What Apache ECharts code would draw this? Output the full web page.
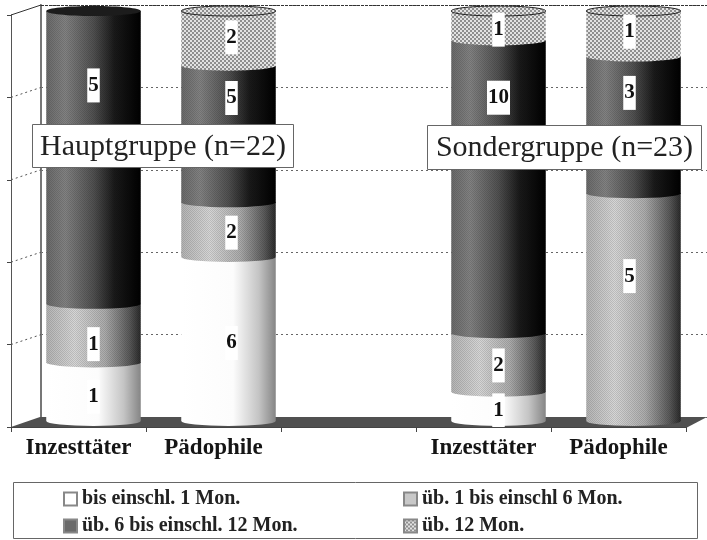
<!DOCTYPE html>
<html>
<head>
<meta charset="utf-8">
<style>html,body{margin:0;padding:0;background:#fff}#echarts{width:707px;height:540px}</style>
<script src="https://cdn.jsdelivr.net/npm/echarts@6/dist/echarts.min.js"></script>
</head>
<body>
<div id="echarts"></div>
<script>
// Anzahl der Täter je Gruppe, die Balken zeigen den Anteil an der Gruppe
const categories = ['Inzesttäter', 'Pädophile', '', 'Inzesttäter', 'Pädophile'];
const stageNames = ['bis einschl. 1 Mon.', 'üb. 1 bis einschl 6 Mon.', 'üb. 6 bis einschl. 12 Mon.', 'üb. 12 Mon.'];
const bisEin = [1, 6, 0, 1, 0];
const uebEin = [1, 2, 0, 2, 5];
const uebSechs = [5, 5, 0, 10, 3];
const uebZwoelf = [0, 2, 0, 1, 1];
const stages = [bisEin, uebEin, uebSechs, uebZwoelf];
const yTicks = [0, 20, 40, 60, 80, 100];
const groupLabels = ['Hauptgruppe (n=22)', 'Sondergruppe (n=23)'];

// Wert-Etiketten sind im Original von Hand verschoben
const labelMoveY = {'0-0': 5, '1-0': 11, '2-0': -72, '0-1': 4, '1-1': 3, '2-1': -36, '3-1': -1, '0-3': 4, '1-3': 3, '2-3': -89, '3-3': 4, '1-4': -31, '2-4': -32, '3-4': -2};
const labelMoveX = [0, 3, 0, 0, -4];

const SERIF = '"Liberation Serif", "Times New Roman", serif';
const front = {left: 11, right: 21, top: 15, bottom: 113};
const back = {left: 41, right: -9, top: 5, bottom: 123};
const mid = {left: 26, right: 6, top: 11, bottom: 119};

let makePattern = function (size, draw) {
    let c = document.createElement('canvas');
    c.width = c.height = size;
    draw(c.getContext('2d'));
    return {image: c, repeat: 'repeat'};
}

// Rasterpunkte wie im Scan
let grain = makePattern(2, function (ctx) {
    ctx.fillStyle = 'rgba(0,0,0,0.12)';
    ctx.fillRect(0, 0, 1, 1);
    ctx.fillRect(1, 1, 1, 1);
});
let checker = makePattern(4, function (ctx) {
    ctx.fillStyle = '#e2e2e2';
    ctx.fillRect(0, 0, 4, 4);
    ctx.fillStyle = '#8e8e8e';
    ctx.fillRect(0, 0, 2, 2);
    ctx.fillRect(2, 2, 2, 2);
});

let shade = function (stops) {
    return new echarts.graphic.LinearGradient(0, 0, 1, 0, stops.map((s) => ({offset: s[0], color: s[1]})));
}
const fills = [
    shade([[0, '#ffffff'], [0.55, '#fcfcfc'], [0.82, '#c4c4c4'], [1, '#858585']]),
    shade([[0, '#b4b4b4'], [0.3, '#d6d6d6'], [0.62, '#acacac'], [0.88, '#5a5a5a'], [1, '#2a2a2a']]),
    shade([[0, '#6a6a6a'], [0.2, '#828282'], [0.5, '#505050'], [0.72, '#1a1a1a'], [1, '#000000']]),
    checker
];
const legendColors = ['#ffffff', '#c8c8c8', '#6a6a6a', checker];

let totals = categories.map((c, i) => stages.reduce((sum, s) => sum + s[i], 0));

// [Kategorie, von %, bis %, Anzahl] für eine Stufe
let stageData = function (idx) {
    return categories.map((c, i) => {
        let below = 0;
        for (let k = 0; k < idx; k++) below += stages[k][i];
        if (!stages[idx][i]) return [i, 0, 0, 0];
        return [i, below / totals[i] * 100, (below + stages[idx][i]) / totals[i] * 100, stages[idx][i]];
    });
}

let renderCylinder = function (idx) {
    return function (params, api) {
        let cat = api.value(0);
        let count = api.value(3);
        if (!count) return {type: 'group', children: []};
        let w = api.size([1, 0])[0] * 0.7;
        let p0 = api.coord([cat, api.value(1)]);
        let p1 = api.coord([cat, api.value(2)]);
        let x = p0[0] - w / 2, rx = w / 2, ry = 5;
        let segment = function (fill) {
            return {
                type: 'path',
                shape: {
                    pathData: 'M' + x + ' ' + p1[1] + 'L' + (x + w) + ' ' + p1[1] + 'L' + (x + w) + ' ' + p0[1] +
                        'A' + rx + ' ' + ry + ' 0 0 1 ' + x + ' ' + p0[1] + 'Z',
                    layout: 'cover', x: x, y: p1[1], width: w, height: p0[1] - p1[1] + ry
                },
                style: {fill: fill}
            };
        }
        let kids = [segment(fills[idx])];
        if (idx === 1 || idx === 2) kids.push(segment(grain));
        // Deckel auf dem obersten Segment
        let isTop = true;
        for (let k = idx + 1; k < stages.length; k++) if (stages[k][cat]) isTop = false;
        if (isTop) {
            kids.push({type: 'ellipse', shape: {cx: p0[0], cy: p1[1], rx: rx, ry: ry},
                style: idx === 3 ? {fill: checker, stroke: '#222', lineWidth: 1} : {fill: '#1c1c1c'}});
        }
        let key = idx + '-' + cat;
        kids.push({
            type: 'text', z2: 50,
            style: {
                text: String(count), x: p0[0] + labelMoveX[cat], y: (p0[1] + p1[1]) / 2 + (labelMoveY[key] || 0),
                align: 'center', verticalAlign: 'middle',
                font: 'bold 21px ' + SERIF, fill: '#111', backgroundColor: '#fff', padding: [7, 1, 6, 1]
            }
        });
        return {type: 'group', children: kids};
    };
}

let groupBox = function (text, x, y, w, h) {
    return [
        {type: 'rect', z: 100, shape: {x: x, y: y, width: w, height: h}, style: {fill: '#fff', stroke: '#666', lineWidth: 1}},
        {type: 'text', z: 101, style: {text: text, x: x + w / 2, y: y + h / 2 + 1, align: 'center', verticalAlign: 'middle', font: '30px ' + SERIF, fill: '#222'}}
    ];
}

let chartH = 540, chartW = 707;
let fy = chartH - front.bottom, by = chartH - back.bottom;

let option = {
    backgroundColor: '#fff',
    animation: false,
    grid: [
        {left: front.left, right: front.right, top: front.top, bottom: front.bottom},
        {left: back.left, right: back.right, top: back.top, bottom: back.bottom},
        {left: mid.left, right: mid.right, top: mid.top, bottom: mid.bottom}
    ],
    xAxis: [
        {
            type: 'category', gridIndex: 0, data: categories,
            axisLine: {show: true, lineStyle: {color: '#444'}},
            axisTick: {show: true, length: 5, alignWithLabel: false, interval: 0, lineStyle: {color: '#444'}},
            axisLabel: {interval: 0, margin: 10, fontFamily: SERIF, fontWeight: 'bold', fontSize: 23, color: '#151515'},
            z: 4
        },
        {type: 'category', gridIndex: 1, data: categories, show: false},
        {type: 'category', gridIndex: 2, data: categories, show: false}
    ],
    yAxis: [
        {
            type: 'value', gridIndex: 0, min: yTicks[0], max: yTicks[yTicks.length - 1], interval: yTicks[1] - yTicks[0],
            axisLine: {show: true, lineStyle: {color: '#555'}},
            axisTick: {show: true, length: 4, lineStyle: {color: '#444'}},
            axisLabel: {show: false}, splitLine: {show: false}
        },
        {
            type: 'value', gridIndex: 1, min: yTicks[0], max: yTicks[yTicks.length - 1], interval: yTicks[1] - yTicks[0],
            axisLine: {show: true, lineStyle: {color: '#777', width: 2}},
            axisTick: {show: false}, axisLabel: {show: false},
            splitLine: {show: true, lineStyle: {color: '#666', type: [2, 3], width: 1}}
        },
        {type: 'value', gridIndex: 2, min: yTicks[0], max: yTicks[yTicks.length - 1], show: false}
    ],
    legend: {
        left: 63, top: 487, padding: 0,
        itemWidth: 13, itemHeight: 13, itemGap: 3, width: 700,
        icon: 'rect', selectedMode: false,
        data: stageNames,
        textStyle: {fontFamily: SERIF, fontWeight: 'bold', fontSize: 20, color: '#222', width: 318, lineHeight: 24}
    },
    series: stageNames.map((name, idx) => ({
        name: name,
        type: 'custom',
        xAxisIndex: 2, yAxisIndex: 2,
        encode: {x: 0, y: [1, 2]},
        itemStyle: {color: legendColors[idx], borderColor: '#888', borderWidth: 1},
        renderItem: renderCylinder(idx),
        data: stageData(idx)
    })),
    graphic: [
        // Boden und Seitenwand
        {type: 'polygon', z: 1, shape: {points: [[front.left - 3, fy + 1], [back.left - 1, by], [chartW, by], [chartW - front.right, fy + 1]]},
            style: {fill: '#505050'}},
        {type: 'polyline', z: 1, shape: {points: [[front.left, front.top], [back.left, back.top]]}, style: {stroke: '#333', lineWidth: 1, fill: null}},
        {type: 'line', z: 1, shape: {x1: back.left, y1: back.top + 0.5, x2: chartW, y2: back.top + 0.5}, style: {stroke: '#333', lineWidth: 1, lineDash: [3, 1]}},
        {type: 'rect', z: 0, shape: {x: 13.5, y: 482.5, width: 684, height: 56}, style: {fill: '#fff', stroke: '#666', lineWidth: 1}}
    ].concat(groupBox(groupLabels[0], 32.5, 124.5, 261, 43), groupBox(groupLabels[1], 427.5, 125.5, 274, 44))
};

// gepunktete Linien der Seitenwand
yTicks.slice(1, -1).forEach((t) => {
    let k = (t - yTicks[0]) / (yTicks[yTicks.length - 1] - yTicks[0]);
    let h = chartH - front.bottom - front.top;
    option.graphic.push({
        type: 'line', z: 1,
        shape: {x1: front.left, y1: fy - k * h, x2: back.left, y2: by - k * h},
        style: {stroke: '#555', lineWidth: 1, lineDash: [2, 3]}
    });
});

let createEchart = function (echartsInName, opt) {
    let chart = echarts.init(document.getElementById(echartsInName));
    chart.setOption(opt);
    return chart;
}
createEchart('echarts', option);
</script>
</body>
</html>
